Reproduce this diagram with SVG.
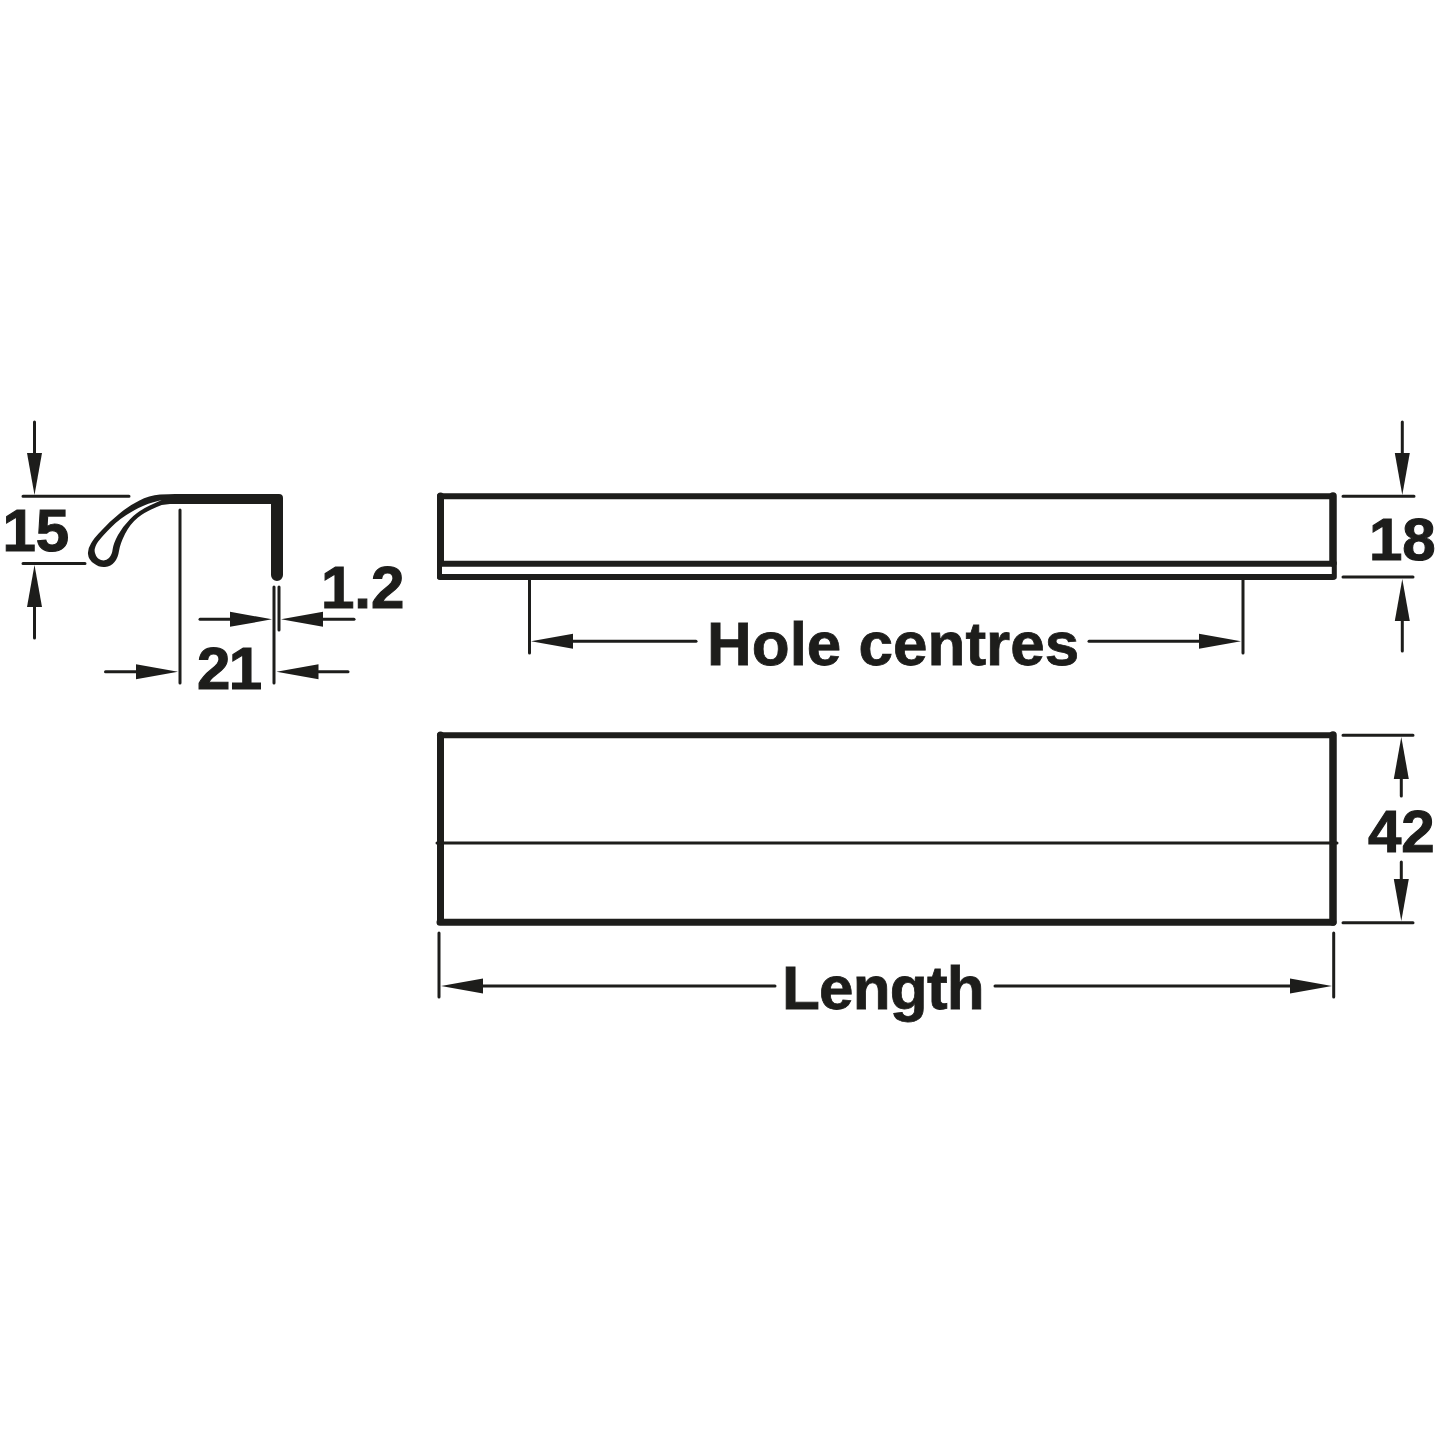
<svg xmlns="http://www.w3.org/2000/svg" width="1445" height="1443" viewBox="0 0 1445 1443">
<style>
.dim{stroke:#1d1d1b;stroke-width:3;fill:none;stroke-linecap:round}
.arr{marker-end:url(#head)}
.thick{stroke:#1d1d1b;fill:none;stroke-linecap:round;stroke-linejoin:round}
text{font-family:"Liberation Sans",Arial,sans-serif;font-weight:700;font-size:60px;fill:#1d1d1b;stroke:#1d1d1b;stroke-width:1.100px}
.word{font-size:62px;stroke-width:.8px}
</style>
<defs>
<marker id="head" markerUnits="userSpaceOnUse" markerWidth="44" markerHeight="18" refX="0" refY="8" orient="auto" overflow="visible">
<path d="M0 0.500L42 8L0 15.500Z" fill="#1d1d1b"/>
</marker>
</defs>
<rect width="1445" height="1443" fill="#fff"/>
<g id="profile">
<path fill="#1d1d1b" fill-rule="evenodd" d="M175 494L279 494Q283 494 283 498L283 575A6 6 0 0 1 271 575L271 504L170 504L161.700 505Q146 511 138 517.500Q130 524 125 534Q120 544 119 551Q118 558 114.500 562Q111 566.500 105 567Q99 567.500 94 563.500Q88.500 560 88 554Q87.500 549 91 543.500Q94 538 101.500 530.500Q109 522 119 514Q129 505.500 139 500.700Q149 495.500 160 494.500Q170 494 175 494ZM161.700 500L152.500 502.500Q143.300 505 131.700 511.700Q120 518.300 111.700 526.700Q103.300 535 98 541.700Q93.500 548.300 95 553Q96.500 558.500 101 560Q105.500 561.500 109 558Q112 555 112.700 549Q113.500 543.300 118 535Q122.500 526.700 130 519.200Q137 511.700 149.200 505.800Z"/>
</g>
<g id="front-view">
<path class="thick" stroke-width="6" d="M440 496.300H1333M440 563.700H1333M440 577H1333"/>
<path class="thick" stroke-width="7" d="M440.500 496V563"/>
<path class="thick" stroke-width="7.500" d="M1333 496V563"/>
<path class="thick" stroke-width="5" d="M439.500 563V577M1334.300 563V577"/>
</g>
<g id="top-view">
<path class="thick" stroke-width="6" d="M440 735.300H1333"/>
<path class="thick" stroke-width="7" d="M440 922.300H1333M440.500 735V922"/>
<path class="thick" stroke-width="7.500" d="M1333 735V922"/>
<path class="thick" stroke-width="3" d="M437 843H1337"/>
</g>
<g id="connectors">
<path class="dim" d="M23 496.300H129M23 563.500H85M180 510V683M274 587V683M279 587V630M1343 496.300H1414M1343 577H1413M1243 580V653M529.500 580V653M1343 735.300H1413M1343 922.700H1413M439 933V997M1333.700 933V997"/>
<line class="dim arr" x1="34.500" y1="422" x2="34.500" y2="453"/>
<line class="dim arr" x1="34.500" y1="638" x2="34.500" y2="607"/>
<line class="dim arr" x1="200" y1="619.300" x2="230" y2="619.300"/>
<line class="dim arr" x1="354" y1="619.300" x2="323" y2="619.300"/>
<line class="dim arr" x1="105.500" y1="671.700" x2="136" y2="671.700"/>
<line class="dim arr" x1="348" y1="671.700" x2="318.500" y2="671.700"/>
<line class="dim arr" x1="1402.300" y1="422" x2="1402.300" y2="453"/>
<line class="dim arr" x1="1402.300" y1="651" x2="1402.300" y2="621"/>
<line class="dim arr" x1="696" y1="641.300" x2="573" y2="641.300"/>
<line class="dim arr" x1="1089" y1="641.300" x2="1199" y2="641.300"/>
<line class="dim arr" x1="1401.300" y1="796" x2="1401.300" y2="779"/>
<line class="dim arr" x1="1401.300" y1="862" x2="1401.300" y2="879"/>
<line class="dim arr" x1="775" y1="986" x2="483" y2="986"/>
<line class="dim arr" x1="995" y1="986" x2="1290" y2="986"/>
</g>
<g id="labels">
<text x="2.500" y="550.500">15</text>
<text x="197" y="688.500" letter-spacing="-1.500">21</text>
<text x="321" y="607.500">1.2</text>
<text x="1369" y="560">18</text>
<text x="1368" y="852">42</text>
<text class="word" x="707" y="664.500">Hole centres</text>
<text class="word" x="782" y="1008.500" letter-spacing="-.800">Length</text>
</g>
</svg>
